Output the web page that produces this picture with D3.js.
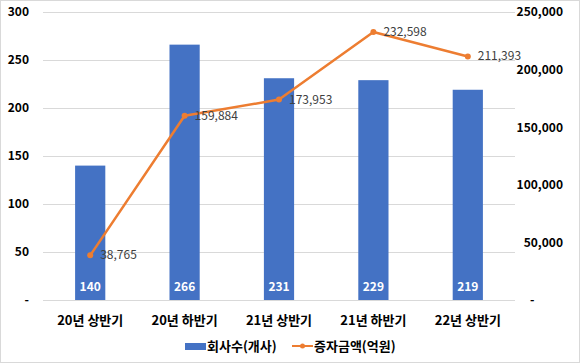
<!DOCTYPE html>
<html>
<head>
<meta charset="utf-8">
<script src="https://cdn.jsdelivr.net/npm/d3@7"></script>
<style>
  body { margin: 0; background: #fff; }
  text { font-family: "Noto Sans CJK KR", "Malgun Gothic", sans-serif; }
</style>
</head>
<body>
<div id="chart"></div>
<script>
var width = 580,
height = 363;

var categories = ["20년 상반기", "20년 하반기", "21년 상반기", "21년 하반기", "22년 상반기"];
var companies = [140, 266, 231, 229, 219];
var amounts = [38765, 159884, 173953, 232598, 211393];
var leftTicks = [0, 50, 100, 150, 200, 250, 300];
var rightTicks = [0, 50000, 100000, 150000, 200000, 250000];

var blue = "#4472C4", orange = "#ED7D31";

var svg = d3.select("#chart").append("svg")
.attr("width", width)
.attr("height", height);

// outer border
svg.append("rect")
.attr("x", 0.5).attr("y", 0.5)
.attr("width", width - 1).attr("height", height - 1)
.attr("fill", "#fff")
.attr("stroke", "#d9d9d9");

var x = d3.scaleBand()
.domain(categories)
.range([43, 515])
.paddingInner(0.68)
.paddingOuter(0.34);

var yL = d3.scaleLinear().domain([0, 300]).range([300, 12]);
var yR = d3.scaleLinear().domain([0, 250000]).range([300, 12]);

// gridlines
svg.append("g")
.selectAll("line")
.data(leftTicks)
.enter().append("line")
.attr("x1", 43).attr("x2", 515)
.attr("y1", function(d) { return yL(d) + 0.5; })
.attr("y2", function(d) { return yL(d) + 0.5; })
.attr("stroke", "#d9d9d9")
.attr("stroke-width", 1);

// left axis
var fmtL = function(d) { return d === 0 ? "-" : d; };
var leftAxis = svg.append("g")
.attr("transform", "translate(29,0)")
.call(d3.axisLeft(yL).tickValues(leftTicks).tickFormat(fmtL).tickSize(0).tickPadding(0));
leftAxis.select(".domain").remove();
leftAxis.selectAll("text")
.style("font-size", "12px").style("font-weight", "bold").attr("fill", "#000");

// right axis
var fmtR = d3.format(",");
var rightAxis = svg.append("g")
.attr("transform", "translate(563,0)")
.call(d3.axisLeft(yR).tickValues(rightTicks).tickFormat(function(d) { return d === 0 ? "-" : fmtR(d); }).tickSize(0).tickPadding(0));
rightAxis.select(".domain").remove();
rightAxis.selectAll("text")
.style("font-size", "12px").style("font-weight", "bold").attr("fill", "#000");
rightAxis.selectAll(".tick").filter(function(d) { return d === 0; }).select("text")
.attr("text-anchor", "start").attr("x", -33);

// bars
svg.append("g")
.selectAll("rect")
.data(companies)
.enter().append("rect")
.attr("x", function(d, i) { return x(categories[i]); })
.attr("y", function(d) { return yL(d); })
.attr("width", x.bandwidth())
.attr("height", function(d) { return yL(0) - yL(d); })
.attr("fill", blue);

// bar labels
svg.append("g")
.selectAll("text")
.data(companies)
.enter().append("text")
.attr("x", function(d, i) { return x(categories[i]) + x.bandwidth() / 2; })
.attr("y", 291)
.attr("text-anchor", "middle")
.style("font-size", "12px").style("font-weight", "bold")
.attr("fill", "#fff")
.text(function(d) { return d; });

// line
var cx = function(d, i) { return x(categories[i]) + x.bandwidth() / 2; };
var line = d3.line()
.x(function(d, i) { return cx(d, i); })
.y(function(d) { return yR(d); });

svg.append("path")
.datum(amounts)
.attr("d", line)
.attr("fill", "none")
.attr("stroke", orange)
.attr("stroke-width", 2.5)
.attr("stroke-linejoin", "round");

svg.append("g")
.selectAll("circle")
.data(amounts)
.enter().append("circle")
.attr("cx", cx)
.attr("cy", function(d) { return yR(d); })
.attr("r", 3)
.attr("fill", orange);

svg.append("g")
.selectAll("text")
.data(amounts)
.enter().append("text")
.attr("x", function(d, i) { return cx(d, i) + 10; })
.attr("y", function(d) { return yR(d) + 4; })
.style("font-size", "12px")
.attr("fill", "#404040")
.text(function(d) { return fmtR(d); });

// x labels
svg.append("g")
.selectAll("text")
.data(categories)
.enter().append("text")
.attr("x", function(d) { return x(d) + x.bandwidth() / 2; })
.attr("y", 325)
.attr("text-anchor", "middle")
.style("font-size", "13px").style("font-weight", "bold")
.attr("fill", "#000")
.text(function(d) { return d; });

// legend
var legend = svg.append("g").attr("transform", "translate(0,346)");
legend.append("rect")
.attr("x", 185).attr("y", -3)
.attr("width", 21).attr("height", 7)
.attr("fill", blue);
legend.append("text")
.attr("x", 207).attr("y", 5)
.style("font-size", "13px").style("font-weight", "bold")
.attr("fill", "#000")
.text("회사수(개사)");
legend.append("line")
.attr("x1", 292).attr("x2", 313)
.attr("y1", 0).attr("y2", 0)
.attr("stroke", orange).attr("stroke-width", 2);
legend.append("circle")
.attr("cx", 302.5).attr("cy", 0).attr("r", 2.5).attr("fill", orange);
legend.append("text")
.attr("x", 314).attr("y", 5)
.style("font-size", "13px").style("font-weight", "bold")
.attr("fill", "#000")
.text("증자금액(억원)");
</script>
</body>
</html>
